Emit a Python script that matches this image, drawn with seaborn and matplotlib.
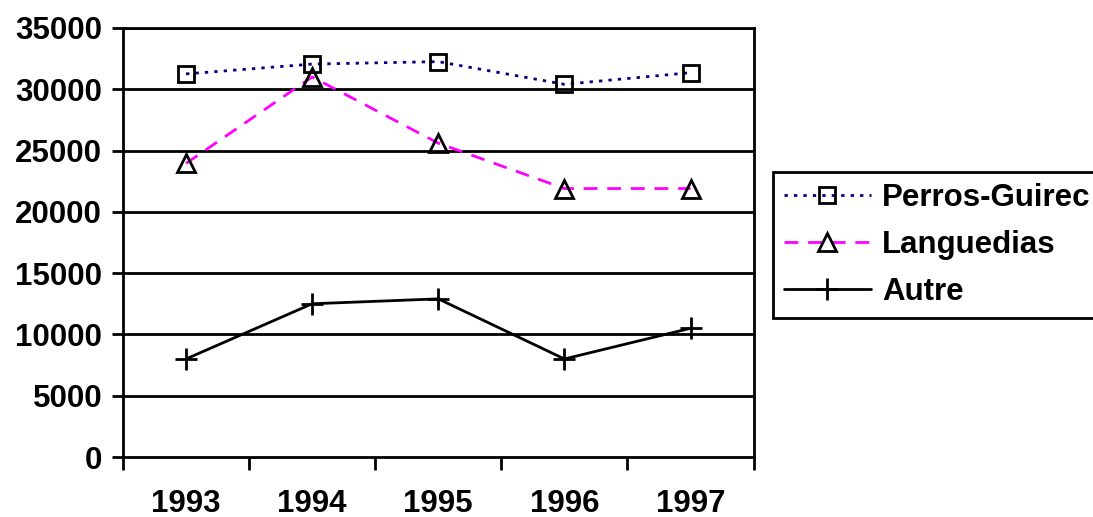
import matplotlib
matplotlib.use("Agg")
import matplotlib.pyplot as plt
import seaborn as sns
import pandas as pd
from matplotlib.ticker import FixedLocator, NullFormatter

years = ["1993", "1994", "1995", "1996", "1997"]
perros = [31250, 32050, 32250, 30400, 31350]
languedias = [23950, 31000, 25600, 21900, 21900]
autre = [8000, 12500, 12900, 8000, 10500]
series_names = ["Perros-Guirec", "Languedias", "Autre"]
yticks = [0, 5000, 10000, 15000, 20000, 25000, 30000, 35000]

sns.set_theme(style="white")
plt.rcParams["font.family"] = ["Liberation Sans", "DejaVu Sans"]
plt.rcParams["font.weight"] = "bold"
plt.rcParams["text.color"] = "black"
plt.rcParams["xtick.color"] = "black"
plt.rcParams["ytick.color"] = "black"
plt.rcParams["xtick.labelcolor"] = "black"
plt.rcParams["ytick.labelcolor"] = "black"

FS = 22.5

fig = plt.figure(figsize=(10.93, 5.17), dpi=100)
ax = fig.add_axes([0.1125, 0.116, 0.577, 0.83])

df = pd.DataFrame({"year": years * 3,
                   "value": perros + languedias + autre,
                   "series": [series_names[0]] * 5 + [series_names[1]] * 5 + [series_names[2]] * 5})

styles = {
    "Perros-Guirec": dict(color="#000080", linestyle=(0, (1.2, 2.2)), marker="s", markersize=12),
    "Languedias": dict(color="#FF00FF", linestyle=(0, (5, 3.5)), marker="^", markersize=13),
    "Autre": dict(color="black", linestyle="-", marker="+", markersize=16),
}
for name in series_names:
    sub = df[df["series"] == name]
    st = styles[name]
    sns.lineplot(data=sub, x="year", y="value", ax=ax, label=name, color=st["color"],
                 linestyle=st["linestyle"], linewidth=2, marker=st["marker"],
                 markersize=st["markersize"], markerfacecolor="none",
                 markeredgecolor="black", markeredgewidth=2, sort=False, legend=False)

ax.set_xlim(-0.5, 4.5)
ax.set_ylim(0, 35000)
ax.set_yticks(yticks)
ax.set_yticklabels([str(v) for v in yticks], fontsize=FS, fontweight="bold", color="black")
ax.set_xticks(range(len(years)))
ax.set_xticklabels(years, fontsize=FS, fontweight="bold", color="black")
ax.xaxis.set_minor_locator(FixedLocator([i - 0.5 for i in range(len(years) + 1)]))
ax.xaxis.set_minor_formatter(NullFormatter())
ax.tick_params(axis="x", which="major", length=0, pad=23)
ax.tick_params(axis="x", which="minor", length=9, width=2, color="black", direction="out", bottom=True)
ax.tick_params(axis="y", length=8, width=2, color="black", direction="out", left=True, pad=7)
ax.set_xlabel("")
ax.set_ylabel("")
ax.grid(False)
for v in yticks[1:]:
    ax.axhline(v, color="black", linewidth=2, zorder=0.5)
for s in ax.spines.values():
    s.set_color("black")
    s.set_linewidth(2)

handles, labels = ax.get_legend_handles_labels()
leg = fig.legend(handles, labels, loc="upper left", bbox_to_anchor=(0.707, 0.668),
                 prop={"weight": "bold", "size": FS}, frameon=True, fancybox=False,
                 framealpha=1, edgecolor="black", borderpad=0.35, handlelength=2.8,
                 handletextpad=0.35, labelspacing=0.55, borderaxespad=0)
leg.get_frame().set_linewidth(2)

fig.savefig("out.png", dpi=100)
